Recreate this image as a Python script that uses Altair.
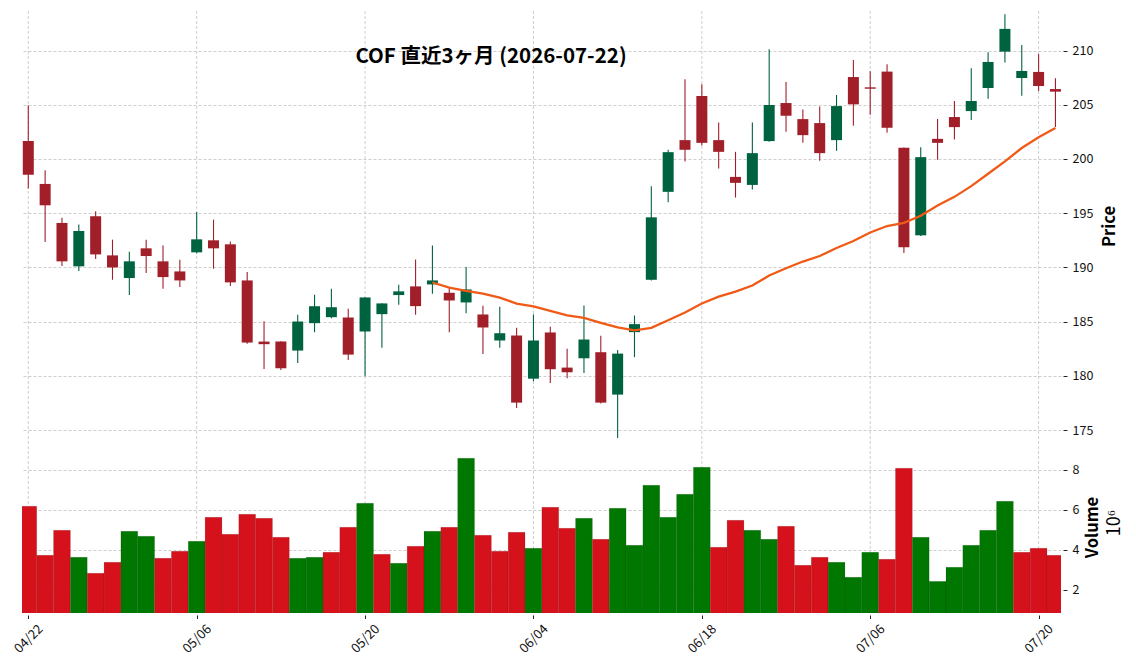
import json
import pandas as pd
import altair as alt

TITLE = "COF 直近3ヶ月 (2026-07-22)"

DATES = [
    "04/22", "04/23", "04/24", "04/27", "04/28", "04/29", "04/30", "05/01", "05/04", "05/05",
    "05/06", "05/07", "05/08", "05/11", "05/12", "05/13", "05/14", "05/15", "05/18", "05/19",
    "05/20", "05/21", "05/22", "05/26", "05/27", "05/28", "05/29", "06/01", "06/02", "06/03",
    "06/04", "06/05", "06/08", "06/09", "06/10", "06/11", "06/12", "06/15", "06/16", "06/17",
    "06/18", "06/22", "06/23", "06/24", "06/25", "06/26", "06/29", "06/30", "07/01", "07/02",
    "07/06", "07/07", "07/08", "07/09", "07/10", "07/13", "07/14", "07/15", "07/16", "07/17",
    "07/20", "07/21",
]

OPEN = [
    201.65, 197.70, 194.10, 190.10, 194.72, 191.11, 189.02, 191.76, 190.56, 189.63,
    191.39, 192.50, 192.13, 188.80, 183.16, 183.16, 182.33, 184.86, 185.41, 185.38,
    184.09, 185.69, 187.45, 188.25, 188.43, 187.66, 186.77, 185.66, 183.26, 183.72,
    179.74, 184.00, 180.76, 181.62, 182.18, 178.27, 184.03, 188.86, 196.97, 201.74,
    205.81, 201.74, 198.35, 197.61, 201.65, 205.16, 203.68, 203.31, 201.74, 207.56,
    206.61, 208.06, 201.03, 192.96, 201.86, 203.87, 204.42, 206.55, 209.90, 207.47,
    208.03, 206.45,
]
HIGH = [
    204.94, 198.97, 194.59, 193.95, 195.18, 192.56, 191.45, 192.56, 192.01, 190.71,
    195.12, 194.41, 192.38, 189.57, 185.04, 183.20, 185.63, 187.48, 188.03, 186.18,
    187.26, 186.70, 188.40, 190.74, 192.01, 188.09, 190.03, 186.46, 186.37, 184.43,
    185.66, 184.52, 182.49, 186.49, 183.69, 182.39, 185.57, 197.49, 200.85, 207.35,
    206.89, 203.37, 200.66, 203.37, 210.12, 207.10, 204.57, 204.85, 205.90, 209.13,
    208.09, 208.73, 201.06, 201.09, 203.68, 205.35, 208.36, 209.84, 213.36, 210.52,
    209.69, 207.44,
]
LOW = [
    197.27, 192.34, 190.13, 189.66, 190.77, 188.86, 187.45, 189.48, 188.03, 188.19,
    191.30, 189.88, 188.28, 182.95, 180.64, 180.55, 181.19, 184.03, 185.32, 181.47,
    179.96, 182.58, 186.55, 185.63, 187.57, 184.03, 185.78, 182.02, 182.58, 177.03,
    179.50, 179.34, 179.78, 180.27, 177.45, 174.26, 181.72, 188.80, 196.01, 199.77,
    201.25, 199.12, 196.44, 197.18, 201.60, 202.51, 201.49, 199.83, 200.75, 203.07,
    204.08, 202.42, 191.33, 192.90, 199.92, 201.80, 203.59, 205.56, 208.89, 205.84,
    206.27, 202.94,
]
CLOSE = [
    198.54, 195.73, 190.56, 193.36, 191.20, 190.00, 190.56, 191.05, 189.11, 188.80,
    192.59, 191.76, 188.62, 183.07, 182.92, 180.70, 185.01, 186.42, 186.33, 181.96,
    187.23, 186.68, 187.79, 186.43, 188.80, 186.95, 187.97, 184.46, 183.93, 177.53,
    183.26, 180.61, 180.33, 183.35, 177.53, 182.05, 184.77, 194.62, 200.63, 200.85,
    201.49, 200.66, 197.80, 200.54, 204.98, 203.99, 202.20, 200.54, 204.88, 205.04,
    206.48, 202.88, 191.85, 200.17, 201.49, 202.94, 205.35, 208.95, 212.00, 208.12,
    206.73, 206.21,
]
# volume in millions (axis shows ×10^6)
VOLUME_M = [
    6.17, 3.72, 4.97, 3.62, 2.82, 3.37, 4.92, 4.67, 3.57, 3.92,
    4.42, 5.62, 4.77, 5.77, 5.57, 4.62, 3.57, 3.62, 3.87, 5.12,
    6.32, 3.77, 3.32, 4.17, 4.92, 5.12, 8.57, 4.72, 3.92, 4.87,
    4.07, 6.12, 5.07, 5.57, 4.52, 6.07, 4.22, 7.22, 5.62, 6.77,
    8.12, 4.12, 5.47, 4.97, 4.52, 5.17, 3.22, 3.62, 3.37, 2.62,
    3.87, 3.52, 8.07, 4.62, 2.42, 3.12, 4.22, 4.97, 6.42, 3.87,
    4.07, 3.72,
]
MAV = 25
X_TICKS = [0, 10, 20, 30, 40, 50, 60]
PRICE_TICKS = [175, 180, 185, 190, 195, 200, 205, 210]
VOL_TICKS = [2, 4, 6, 8]

FONT = "Noto Sans CJK JP"
UP, DOWN = "#00633f", "#a01f29"
VUP, VDOWN = "#007700", "#d5111b"
MA_COLOR = "#f05a16"
GRID = "#c2c2c2"

df = pd.DataFrame({
    "i": list(range(len(DATES))),
    "date": DATES,
    "open": OPEN, "high": HIGH, "low": LOW, "close": CLOSE,
    "volume": VOLUME_M,
})
prev = df["close"].shift(1)
df["vup"] = ((df["close"] >= prev) | (prev.isna() & (df["close"] >= df["open"])))

W, H = 1039, 602
PRICE_H = 430

x_scale = alt.Scale(domain=[-0.374, 61.33], nice=False, zero=False, padding=0)
x_axis = alt.Axis(
    values=X_TICKS, labelExpr=f"{json.dumps(DATES)}[datum.value]",
    labelAngle=315, labelAlign="center", labelBaseline="middle", labelPadding=20,
    tickSize=3.5, offset=2, tickColor="#222", labelColor="#111", labelFontSize=13,
    labelFont=FONT, labelOverlap=False, grid=False, domain=False, title=None,
)
X = alt.X("i:Q", scale=x_scale, axis=x_axis)

price_scale = alt.Scale(domain=[173.99, 213.65], range=[PRICE_H, 0], nice=False, zero=False, padding=0)
price_axis = alt.Axis(
    orient="right", values=PRICE_TICKS, format="d", grid=True, gridDash=[3, 2],
    gridColor=GRID, gridWidth=0.8, domain=False, tickSize=4, offset=2, tickColor="#222",
    labelPadding=5, labelFontSize=12.5, labelColor="#111", labelOverlap=False, labelFont=FONT,
    title="Price", titleFontSize=16.5, titleFontWeight="bold", titleAngle=270,
    titlePadding=25, titleColor="#000", titleFont=FONT,
)
vol_scale = alt.Scale(domain=[0.84, 9.43], range=[H, PRICE_H], nice=False, zero=False, padding=0)
vol_axis = alt.Axis(
    orient="right", values=VOL_TICKS, format="d", grid=True, gridDash=[3, 2],
    gridColor=GRID, gridWidth=0.8, domain=False, tickSize=4, offset=2, tickColor="#222",
    labelPadding=5, labelFontSize=12.5, labelColor="#111", labelOverlap=False, labelFont=FONT,
    title="Volume", titleFontSize=16.5, titleFontWeight="bold", titleAngle=270,
    titlePadding=22, titleColor="#000", titleFont=FONT,
)

candle_color = alt.condition("datum.close >= datum.open", alt.value(UP), alt.value(DOWN))

base = alt.Chart(df)

# vertical date grid lines spanning both panels
vgrid = alt.Chart(pd.DataFrame({"t": X_TICKS})).mark_rule(
    color=GRID, strokeDash=[3, 2], strokeWidth=0.8
).encode(
    x=alt.X("t:Q", scale=x_scale, axis=x_axis),
    y=alt.value(0), y2=alt.value(H),
)

wick = base.mark_rule(strokeWidth=1.1).encode(
    x=X,
    y=alt.Y("low:Q", scale=price_scale, axis=price_axis),
    y2="high:Q",
    color=candle_color,
)
body = base.mark_bar(width=11).encode(
    x=X,
    y=alt.Y("open:Q", scale=price_scale, axis=price_axis),
    y2="close:Q",
    color=candle_color,
)
ma = base.transform_window(
    ma="mean(close)", n="count()", frame=[-(MAV - 1), 0], sort=[alt.SortField("i")]
).transform_filter(f"datum.n >= {MAV}").mark_line(
    color=MA_COLOR, strokeWidth=2.3
).encode(
    x=X,
    y=alt.Y("ma:Q", scale=price_scale, axis=price_axis),
)
title_text = alt.Chart(pd.DataFrame({"t": [TITLE]})).mark_text(
    font=FONT, fontSize=20.5, fontWeight="bold", align="center", baseline="middle", color="#000"
).encode(text="t:N", x=alt.value(469), y=alt.value(46))

price = alt.layer(wick, body, ma, title_text)

vol_bars = base.transform_calculate(
    x0="datum.i - 0.5", x1="datum.i + 0.5"
).mark_bar(clip=True, stroke="#000", strokeOpacity=0.13, strokeWidth=0.8).encode(
    x=alt.X("x0:Q", scale=x_scale, axis=x_axis),
    x2="x1:Q",
    y=alt.Y("volume:Q", scale=vol_scale, axis=vol_axis),
    y2=alt.datum(0),
    color=alt.condition("datum.vup", alt.value(VUP), alt.value(VDOWN)),
)
exp_text = alt.Chart(pd.DataFrame({"t": ["10⁶"]})).mark_text(
    font=FONT, fontSize=18, align="center", baseline="middle", angle=270, color="#000"
).encode(text="t:N", x=alt.value(1093), y=alt.value(512))

vol = alt.layer(vol_bars, exp_text)

chart = alt.layer(vgrid, price, vol).resolve_scale(y="independent").properties(
    width=W, height=H,
    background="white",
    autosize=alt.AutoSizeParams(type="none"),
    padding={"left": 22, "top": 11, "right": 75, "bottom": 57},
).configure_view(strokeWidth=0, strokeOpacity=0, stroke="transparent").configure_axis(
    labelFont=FONT, titleFont=FONT
)

chart.save("out.html", embed_options={"renderer": "svg", "actions": False})
